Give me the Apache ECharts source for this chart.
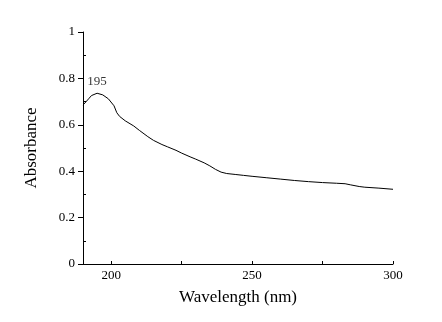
<!DOCTYPE html>
<html>
<head>
<meta charset="utf-8">
<script src="https://cdn.jsdelivr.net/npm/echarts@6/dist/echarts.min.js"></script>
<style>
html,body{margin:0;padding:0;background:#fff;}
#c{width:442px;height:322px;}
</style>
</head>
<body>
<div id="c"></div>
<script>
var wavelengths = [190,192,193,195,197,199,201,202,203,205,208,210,213,215,218,220,223,225,228,230,233,235,237,239,241,244,247,250,255,260,265,270,275,280,283,285,288,290,295,300];
var absorbance = [0.685,0.712,0.726,0.736,0.729,0.712,0.682,0.652,0.636,0.617,0.595,0.576,0.549,0.533,0.515,0.505,0.490,0.478,0.462,0.452,0.436,0.423,0.408,0.396,0.390,0.386,0.382,0.378,0.372,0.366,0.360,0.355,0.351,0.348,0.346,0.341,0.334,0.331,0.327,0.322];
var peakWavelength = 195;
var peakLabel = '195';
var yTicks = [0,0.2,0.4,0.6,0.8,1];
var yMinorTicks = [0.1,0.3,0.5,0.7,0.9];
var xTicks = [200,225,250,275,300];
var xLabels = [200,250,300];

var lineData = wavelengths.map(function(w,i){return [w, absorbance[i]];});
var peakIdx = wavelengths.indexOf(peakWavelength);
var font = '"Liberation Serif","Times New Roman",serif';

var chart = echarts.init(document.getElementById('c'), null, {renderer:'canvas'});
chart.setOption({
  animation:false,
  backgroundColor:'#fff',
  grid:{left:83, right:49, top:32, bottom:58, containLabel:false},
  xAxis:{
    type:'value', min:190, max:300,
    name:'Wavelength (nm)', nameLocation:'middle', nameGap:25,
    nameTextStyle:{fontFamily:font, fontSize:17, color:'#000'},
    axisLine:{show:true, lineStyle:{color:'#000', width:1}},
    axisTick:{show:true, inside:true, length:3, customValues:xTicks, lineStyle:{color:'#000'}},
    axisLabel:{customValues:xLabels, fontFamily:font, fontSize:13, color:'#000', margin:5},
    splitLine:{show:false}
  },
  yAxis:[{
    type:'value', min:0, max:1, interval:0.2,
    name:'Absorbance', nameLocation:'middle', nameGap:43, nameRotate:90,
    nameTextStyle:{fontFamily:font, fontSize:17, color:'#000'},
    axisLine:{show:true, lineStyle:{color:'#000', width:1}},
    axisTick:{show:true, inside:false, length:5, customValues:yTicks, lineStyle:{color:'#000'}},
    axisLabel:{customValues:yTicks, fontFamily:font, fontSize:13, color:'#000', margin:8},
    splitLine:{show:false}
  },{
    type:'value', min:0, max:1, position:'left', offset:0,
    axisLine:{show:false},
    axisTick:{show:true, inside:true, length:3, customValues:yMinorTicks, lineStyle:{color:'#000'}},
    axisLabel:{show:false},
    splitLine:{show:false}
  }],
  series:[{
    type:'line', data:lineData, showSymbol:false, symbol:'none',
    lineStyle:{color:'#000', width:1}, silent:true
  },{
    type:'scatter', data:[lineData[peakIdx]], symbolSize:0,
    label:{show:true, position:'top', distance:5, formatter:peakLabel, fontFamily:font, fontSize:13, color:'#000'},
    silent:true
  }]
});
</script>
</body>
</html>
